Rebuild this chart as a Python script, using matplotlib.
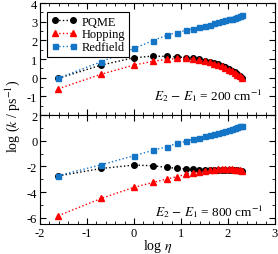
import matplotlib
matplotlib.use("Agg")
import matplotlib.pyplot as plt
from matplotlib.ticker import MultipleLocator

plt.rcParams["font.family"] = ["Liberation Serif", "DejaVu Serif"]
plt.rcParams["mathtext.fontset"] = "stix"
plt.rcParams["axes.unicode_minus"] = False

# log(eta)
log_eta = [-1.609, -0.693, 0.0, 0.405, 0.693, 0.916, 1.099, 1.253, 1.386, 1.504, 1.609,
           1.705, 1.792, 1.872, 1.946, 2.015, 2.079, 2.140, 2.197, 2.251, 2.303]

# E2 - E1 = 200 cm^-1
pqme_200 = [-0.03, 0.68, 1.07, 1.16, 1.14, 1.12, 1.08, 1.04, 0.98, 0.91, 0.85,
            0.78, 0.71, 0.63, 0.55, 0.46, 0.37, 0.28, 0.18, 0.08, -0.02]
hop_200 = [-0.59, 0.19, 0.68, 0.88, 0.98, 1.03, 1.04, 1.00, 0.95, 0.89, 0.83,
           0.76, 0.69, 0.61, 0.53, 0.44, 0.36, 0.26, 0.17, 0.07, -0.03]
red_200 = [-0.02, 0.86, 1.57, 1.99, 2.27, 2.42, 2.54, 2.62, 2.71, 2.78, 2.85,
           2.91, 2.97, 3.02, 3.07, 3.12, 3.17, 3.22, 3.26, 3.31, 3.35]

# E2 - E1 = 800 cm^-1
pqme_800 = [-2.74, -2.16, -1.90, -1.95, -2.08, -2.15, -2.20, -2.24, -2.27, -2.29, -2.30,
            -2.30, -2.30, -2.31, -2.31, -2.31, -2.32, -2.32, -2.32, -2.33, -2.33]
hop_800 = [-5.84, -4.49, -3.63, -3.25, -2.99, -2.80, -2.62, -2.50, -2.42, -2.35, -2.30,
           -2.27, -2.24, -2.23, -2.22, -2.22, -2.23, -2.25, -2.28, -2.32, -2.37]
red_800 = [-2.72, -1.87, -1.17, -0.75, -0.47, -0.21, -0.05, 0.10, 0.23, 0.35, 0.45,
           0.55, 0.63, 0.71, 0.79, 0.86, 0.93, 0.99, 1.05, 1.11, 1.17]

BLACK = "#000000"
RED = "#ff0000"
BLUE = "#1474c6"

fig = plt.figure(figsize=(2.78, 2.55), dpi=100)
ax1 = fig.add_axes([0.144, 0.545, 0.845, 0.439])
ax2 = fig.add_axes([0.144, 0.117, 0.845, 0.428])


def draw(ax, pqme, hop, redf):
    ax.plot(log_eta, pqme, ls=":", lw=1, color=BLACK, marker="o", ms=4, label="PQME")
    ax.plot(log_eta, hop, ls=":", lw=1, color=RED, marker="^", ms=4, label="Hopping")
    ax.plot(log_eta, redf, ls=":", lw=1, color=BLUE, marker="s", ms=3.6, label="Redfield")
    ax.set_xlim(-2, 3)
    ax.xaxis.set_major_locator(MultipleLocator(1))
    ax.xaxis.set_minor_locator(MultipleLocator(0.2))
    ax.tick_params(which="both", direction="in", top=True, right=True, labelsize=9, pad=2)
    ax.tick_params(which="major", length=4)
    ax.tick_params(which="minor", length=2)


draw(ax1, pqme_200, hop_200, red_200)
draw(ax2, pqme_800, hop_800, red_800)

ax1.set_ylim(-2, 4)
ax1.yaxis.set_major_locator(MultipleLocator(1))
ax1.yaxis.set_minor_locator(MultipleLocator(0.5))
ax1.set_yticks([-1, 0, 1, 2, 3, 4])
ax1.tick_params(labelbottom=False)

ax2.set_ylim(-6.5, 2)
ax2.yaxis.set_major_locator(MultipleLocator(2))
ax2.yaxis.set_minor_locator(MultipleLocator(1))
ax2.set_xlabel(r"log $\eta$", fontsize=10, labelpad=-1.5)

leg = ax1.legend(loc="upper left", bbox_to_anchor=(0.03, 0.92), borderaxespad=0,
                 fontsize=9, numpoints=2, handlelength=2.1, handletextpad=0.4,
                 fancybox=False, edgecolor="black", framealpha=1,
                 labelspacing=0.05, borderpad=0.3)
leg.get_frame().set_linewidth(0.8)

ax1.text(0.945, 0.14, r"$E_2$ $-$ $E_1$ = 200 cm$^{-1}$", transform=ax1.transAxes,
         ha="right", va="baseline", fontsize=9.5)
ax2.text(0.948, 0.085, r"$E_2$ $-$ $E_1$ = 800 cm$^{-1}$", transform=ax2.transAxes,
         ha="right", va="baseline", fontsize=9.5)

fig.text(0.045, 0.545, r"log ($k$ / ps$^{-1}$)", rotation=90, ha="center", va="center",
         fontsize=10)

fig.savefig("out.png", dpi=100)
